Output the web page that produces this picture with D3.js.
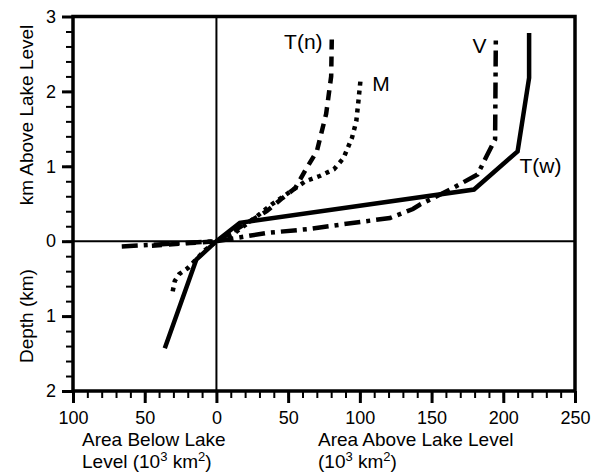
<!DOCTYPE html>
<html>
<head>
<meta charset="utf-8">
<script src="https://cdn.jsdelivr.net/npm/d3@7"></script>
<style>
  body { margin: 0; background: #fff; }
  svg { display: block; font-family: "Liberation Sans", Arial, Helvetica, sans-serif; }
</style>
</head>
<body>
<svg></svg>
<script>
const width = 597,
      height = 475,
      plot = {left: 73, right: 575, top: 16.5, bottom: 391};

// area in 10^3 km^2 (negative = below lake level), elevation in km (negative = depth)
const xTicks = [-100, -50, 0, 50, 100, 150, 200, 250];
const yTicks = [-2, -1, 0, 1, 2, 3];

const seriesTw = [[-36, -1.43], [-14, -0.245], [0, 0], [16.3, 0.245], [179.6, 0.69], [210, 1.2], [218, 2.18], [218, 2.78]];
const seriesTn = [[-45, -0.06], [0, 0], [35, 0.4], [46, 0.575], [55, 0.71], [63, 0.98], [70, 1.2], [76.5, 1.7], [80, 2.2], [80.5, 2.78]];
const seriesM  = [[-30.5, -0.67], [-29, -0.53], [-26, -0.44], [-20, -0.36], [-8, -0.12], [0, 0], [12, 0.1], [28, 0.33], [38.5, 0.49], [62, 0.8], [72, 0.87], [82, 0.96], [88.6, 1.11], [94.5, 1.38], [97.5, 1.6], [99, 1.87], [100.4, 2.14]];
const seriesV  = [[-66, -0.07], [0, 0], [16, 0.05], [35, 0.11], [63, 0.16], [86, 0.22], [121, 0.31], [137, 0.43], [142, 0.49], [163, 0.69], [182, 0.89], [188.5, 1.14], [194.3, 1.36], [194.8, 2.7]];

const curveNames = ["T(w)", "T(n)", "M", "V"];
// where each name sits, in data units
const labelAt = [[211.3, 0.91], [74, 2.56], [108.6, 2.0], [188.3, 2.51]];

const svg = d3.select("svg").attr("width", width).attr("height", height);

const x = d3.scaleLinear().domain([-100, 250]).range([plot.left, plot.right]);
const y = d3.scaleLinear().domain([-2, 3]).range([plot.bottom, plot.top]);

const fmt = d => Math.abs(d);

// minor ticks
svg.append("g")
    .attr("transform", `translate(0,${plot.bottom})`)
    .call(d3.axisBottom(x).tickValues(d3.range(-100, 251, 10)).tickSize(7).tickFormat(""))
    .call(g => g.select(".domain").remove())
    .selectAll("line").attr("stroke-width", 2);

svg.append("g")
    .attr("transform", `translate(${plot.left},0)`)
    .call(d3.axisLeft(y).tickValues(d3.range(-2, 3.01, 0.2)).tickSize(7).tickFormat(""))
    .call(g => g.select(".domain").remove())
    .selectAll("line").attr("stroke-width", 2);

// major ticks + labels
const xAxis = svg.append("g")
    .attr("transform", `translate(0,${plot.bottom})`)
    .call(d3.axisBottom(x).tickValues(xTicks).tickSize(12).tickPadding(8).tickFormat(fmt));
xAxis.select(".domain").remove();
xAxis.selectAll("line").attr("stroke-width", 3);
xAxis.selectAll("text").attr("font-size", 18).attr("fill", "#000").attr("font-family", null);

const yAxis = svg.append("g")
    .attr("transform", `translate(${plot.left},0)`)
    .call(d3.axisLeft(y).tickValues(yTicks).tickSize(11).tickPadding(6).tickFormat(fmt));
yAxis.select(".domain").remove();
yAxis.selectAll("line").attr("stroke-width", 3);
yAxis.selectAll("text").attr("font-size", 18).attr("fill", "#000").attr("font-family", null);

// zero lines
svg.append("line")
    .attr("x1", plot.left).attr("x2", plot.right)
    .attr("y1", y(0)).attr("y2", y(0))
    .attr("stroke", "#000").attr("stroke-width", 2);
svg.append("line")
    .attr("x1", x(0)).attr("x2", x(0))
    .attr("y1", plot.top).attr("y2", plot.bottom)
    .attr("stroke", "#000").attr("stroke-width", 2);

// curves
const line = d3.line().x(d => x(d[0])).y(d => y(d[1]));
const curves = [
  {data: seriesTw, dash: null},
  {data: seriesTn, dash: "10,7"},
  {data: seriesM,  dash: "4,5"},
  {data: seriesV,  dash: "16,6,4,6"}
];

svg.append("g").selectAll("path")
    .data(curves)
    .join("path")
    .attr("d", d => line(d.data))
    .attr("fill", "none")
    .attr("stroke", "#000")
    .attr("stroke-width", 4.5)
    .attr("stroke-linejoin", "miter")
    .attr("stroke-dasharray", d => d.dash);

svg.append("g").selectAll("text")
    .data(curveNames)
    .join("text")
    .attr("x", (d, i) => x(labelAt[i][0]))
    .attr("y", (d, i) => y(labelAt[i][1]))
    .attr("text-anchor", (d, i) => (i === 1 || i === 3) ? "end" : "start")
    .attr("font-size", 21)
    .text(d => d);

// frame
svg.append("rect")
    .attr("x", plot.left).attr("y", plot.top)
    .attr("width", plot.right - plot.left).attr("height", plot.bottom - plot.top)
    .attr("fill", "none").attr("stroke", "#000").attr("stroke-width", 3.5);

// axis titles
svg.append("text")
    .attr("transform", `translate(33,115) rotate(-90)`)
    .attr("text-anchor", "middle")
    .attr("font-size", 19)
    .text("km Above Lake Level");

svg.append("text")
    .attr("transform", `translate(33,${(y(0) + plot.bottom) / 2}) rotate(-90)`)
    .attr("text-anchor", "middle")
    .attr("font-size", 19)
    .text("Depth (km)");

function unitLine(sel) {
  sel.append("tspan").text("(10");
  sel.append("tspan").attr("dy", -7).attr("font-size", 13).text("3");
  sel.append("tspan").attr("dy", 7).text(" km");
  sel.append("tspan").attr("dy", -7).attr("font-size", 13).text("2");
  sel.append("tspan").attr("dy", 7).text(")");
}

const below = svg.append("text").attr("font-size", 19);
below.append("tspan").attr("x", 82).attr("y", 446).text("Area Below Lake");
const belowUnits = below.append("tspan").attr("x", 82).attr("y", 468);
belowUnits.append("tspan").text("Level ");
unitLine(belowUnits);

const above = svg.append("text").attr("font-size", 19);
above.append("tspan").attr("x", 318).attr("y", 446).text("Area Above Lake Level");
const aboveUnits = above.append("tspan").attr("x", 318).attr("y", 468);
unitLine(aboveUnits);
</script>
</body>
</html>
